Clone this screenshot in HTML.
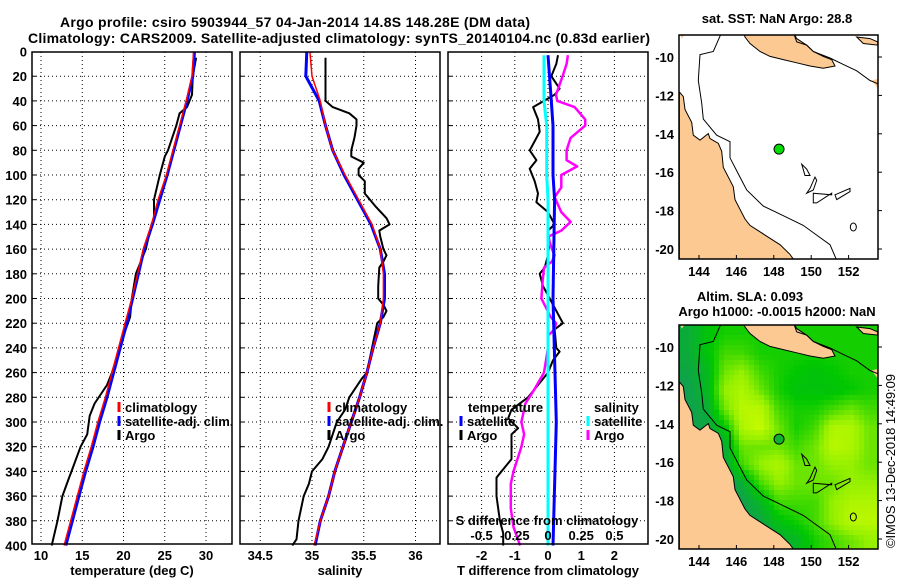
<!DOCTYPE html>
<html><head><meta charset="utf-8">
<style>
body{margin:0;background:#fff;}
svg{display:block;font-family:"Liberation Sans",sans-serif;font-weight:bold;}
</style></head>
<body>
<svg id="fig" width="900" height="580" viewBox="0 0 900 580" xmlns="http://www.w3.org/2000/svg">
<text x="295" y="27" font-size="14" text-anchor="middle" textLength="470">Argo profile: csiro 5903944_57 04-Jan-2014 14.8S 148.28E (DM data)</text>
<text x="339" y="43" font-size="14" text-anchor="middle" textLength="622">Climatology: CARS2009. Satellite-adjusted climatology: synTS_20140104.nc (0.83d earlier)</text>
<g id="plots"></g>
<g id="maps"></g>
<text transform="translate(895,461) rotate(-90)" font-size="13" font-weight="normal" text-anchor="middle" textLength="174">©IMOS 13-Dec-2018 14:49:09</text>
</svg>
<script>
const NS="http://www.w3.org/2000/svg";
// ---------- data ----------
const depthTicks=[0,20,40,60,80,100,120,140,160,180,200,220,240,260,280,300,320,340,360,380,400];
const tempTicks=[10,15,20,25,30];
const salTicks=[34.5,35,35.5,36];
const salTickLabels=["34.5","35","35.5","36"];
const tdiffTicks=[-2,-1,0,1,2];
const sdiffTicks=[-0.5,-0.25,0,0.25,0.5];
const sdiffTickLabels=["-0.5","-0.25","0","0.25","0.5"];

const climDepth=[0,20,40,60,80,100,120,140,160,180,200,220,240,260,280,300,320,340,360,380,400];
const climTemp=[28.5,28.3,27.6,26.8,26.0,25.2,24.2,23.4,22.4,21.7,21.0,20.2,19.4,18.6,17.8,16.9,16.1,15.2,14.4,13.6,12.8];
const satTemp=[28.6,28.4,27.7,26.9,26.1,25.3,24.4,23.5,22.5,21.8,21.1,20.4,19.6,18.8,18.0,17.1,16.3,15.4,14.6,13.8,13.0];
const climSal=[34.98,35.0,35.08,35.13,35.2,35.32,35.45,35.58,35.66,35.69,35.69,35.66,35.59,35.53,35.46,35.38,35.30,35.22,35.16,35.08,35.02];
const satSal=[34.95,34.94,35.07,35.13,35.2,35.31,35.44,35.57,35.66,35.70,35.70,35.66,35.59,35.53,35.46,35.38,35.30,35.22,35.16,35.08,35.03];

const argoTDepth=[5,20,35,45,50,60,80,85,100,120,135,140,160,180,200,215,230,260,270,285,295,310,320,340,345,360,380,400];
const argoTemp=[28.8,28.4,28.3,27.7,26.8,26.4,25.4,25.0,24.4,23.7,23.7,23.4,22.7,21.5,21.0,20.8,20.0,18.6,18.0,16.5,15.9,15.6,14.8,13.7,13.4,12.6,12.0,11.3];
const argoSDepth=[5,40,45,50,55,60,70,80,85,90,95,100,105,115,125,135,140,145,150,160,165,170,175,190,200,205,210,215,220,240,260,265,280,290,300,320,330,340,350,360,380,395,400];
const argoSal=[35.13,35.13,35.2,35.36,35.43,35.43,35.41,35.38,35.38,35.5,35.45,35.45,35.51,35.51,35.61,35.72,35.75,35.65,35.66,35.69,35.72,35.69,35.65,35.64,35.64,35.69,35.72,35.69,35.63,35.58,35.53,35.48,35.36,35.32,35.24,35.16,35.1,35.0,34.97,34.92,34.87,34.85,34.81];

const tdDepth=[3,10,20,30,35,45,55,65,75,80,88,95,105,115,122,130,140,145,155,165,175,180,190,200,220,225,240,243,250,260,270,280,290,297,305,310,330,340,345,360,370,380,390,400];
const argoTDiff=[0.3,0.25,0.1,0.35,0.2,-0.45,-0.3,-0.25,-0.45,-0.55,-0.35,-0.55,-0.4,-0.3,-0.35,0.0,0.2,0.0,0.05,0.0,-0.1,-0.25,-0.15,0.05,0.45,0.2,0.25,0.35,0.15,0.0,-0.3,-0.6,-1.1,-1.2,-0.9,-1.1,-1.1,-1.4,-1.55,-1.55,-1.5,-1.45,-1.35,-1.35];
const sdDepth=[3,10,20,35,40,45,55,60,70,80,88,93,100,110,118,130,138,145,150,160,165,170,175,185,200,215,220,225,230,240,260,275,285,300,310,320,340,350,370,385,400];
const argoSDiff=[0.15,0.14,0.11,0.06,0.07,0.2,0.28,0.28,0.17,0.14,0.14,0.22,0.1,0.1,0.05,0.1,0.17,0.1,0.0,0.03,0.05,0.03,-0.03,-0.04,-0.05,0.02,0.06,0.05,0.0,0.0,-0.03,-0.11,-0.17,-0.2,-0.18,-0.2,-0.26,-0.28,-0.28,-0.26,-0.21];
const satDDepth=[3,40,60,100,120,200,300,400];
const satTDiff=[0.0,0.1,0.15,0.15,0.2,0.15,0.25,0.15];
const satSDiff=[-0.03,-0.03,-0.01,-0.01,0.0,0.0,0.0,0.0];

// map data
const argoLon=148.28, argoLat=-14.8;
const slaGrid=[
[0.1,0.3,0.4,0.4,0.4,0.4,0.4,0.4,0.4,0.4,0.4],
[0.1,0.3,0.5,0.5,0.4,0.4,0.4,0.4,0.4,0.4,0.4],
[0.05,0.2,0.6,0.7,0.5,0.4,0.35,0.3,0.35,0.4,0.4],
[0.0,0.2,0.7,0.8,0.6,0.4,0.3,0.3,0.3,0.35,0.4],
[0.0,0.1,0.6,0.85,0.85,0.5,0.4,0.4,0.5,0.6,0.5],
[0.0,0.05,0.3,0.8,0.9,0.6,0.4,0.5,0.8,0.8,0.6],
[0,0,0.1,0.6,0.6,0.6,0.5,0.6,0.85,0.8,0.6],
[0,0,0.05,0.5,0.7,0.8,0.6,0.6,0.7,0.7,0.6],
[0,0,0,0.1,0.5,0.7,0.6,0.6,0.6,0.7,0.7],
[0,0,0,0,0.2,0.5,0.5,0.5,0.7,0.8,0.8],
[0,0,0,0,0.05,0.3,0.4,0.5,0.7,0.85,0.85],
[0,0,0,0,0,0.1,0.2,0.4,0.5,0.6,0.7]];

// ---------- helpers ----------
function el(tag,attrs,parent){const e=document.createElementNS(NS,tag);for(const k in attrs)e.setAttribute(k,attrs[k]);parent.appendChild(e);return e;}
const yD=d=>51.5+d*1.235;
const Y0=52,Y1=544;
const plots=document.getElementById('plots');

const panels=[
 {x0:32,x1:232,sx:v=>41+(v-10)*8.25,ticks:tempTicks,labels:tempTicks.map(String),xlabel:"temperature (deg C)",name:"temperature-panel"},
 {x0:240,x1:440,sx:v=>312+(v-35)*103.5,ticks:salTicks,labels:salTickLabels,xlabel:"salinity",name:"salinity-panel"},
 {x0:448,x1:648,sx:v=>548+v*33.2,ticks:tdiffTicks,labels:tdiffTicks.map(String),xlabel:"T difference from climatology",name:"difference-panel"}
];
const sxS=v=>548+v*132.8;

panels.forEach((p,pi)=>{
 const g=el('g',{},plots);
 
 
 depthTicks.forEach(d=>{
  if(d===0||d===400)return;
  const l=el('line',{x1:p.x0,x2:p.x1,y1:yD(d),y2:yD(d),stroke:'#000','stroke-width':1,'stroke-dasharray':'1,3'},g);
  
  
  const t=el('line',{x1:p.x0,x2:p.x0+4,y1:yD(d),y2:yD(d),stroke:'#000'},g);
  
  
 });
 p.ticks.forEach((v,i)=>{
  const x=p.sx(v);
  const l=el('line',{x1:x,x2:x,y1:Y0,y2:Y1,stroke:'#000','stroke-width':1,'stroke-dasharray':'1,3'},g);
  
  
  const t=el('text',{x:x,y:560,'font-size':13,'text-anchor':'middle'},g);
  t.textContent=p.labels[i];
  
  
 });
 const xl=el('text',{x:(p.x0+p.x1)/2,y:575,'font-size':13,'text-anchor':'middle'},g);
 xl.textContent=p.xlabel;
 
 
 if(pi===0){
  depthTicks.forEach(d=>{
   const t=el('text',{x:27,y:yD(d)+5,'font-size':13,'text-anchor':'end'},g);
   t.textContent=String(d);
   
   
  });
 }
 p.g=g;
});

function series(g,xf,depths,vals,color,w,name){
 const pts=depths.map((d,i)=>xf(vals[i]).toFixed(1)+','+yD(d).toFixed(1)).join(' ');
 const pl=el('polyline',{points:pts,fill:'none',stroke:color,'stroke-width':w,'stroke-linejoin':'round'},g);
 
 
}
const P=panels;
series(P[0].g,P[0].sx,argoTDepth,argoTemp,'#000',2,'argo-temperature-line');
series(P[0].g,P[0].sx,climDepth,satTemp,'#0000ff',3,'satellite-temperature-line');
series(P[0].g,P[0].sx,climDepth,climTemp,'#ff0000',1.5,'climatology-temperature-line');
series(P[1].g,P[1].sx,argoSDepth,argoSal,'#000',2,'argo-salinity-line');
series(P[1].g,P[1].sx,climDepth,satSal,'#0000ff',3,'satellite-salinity-line');
series(P[1].g,P[1].sx,climDepth,climSal,'#ff0000',1.5,'climatology-salinity-line');
series(P[2].g,P[2].sx,tdDepth,argoTDiff,'#000',2,'argo-t-diff-line');
series(P[2].g,sxS,sdDepth,argoSDiff,'#ff00ff',2.5,'argo-s-diff-line');
series(P[2].g,P[2].sx,satDDepth,satTDiff,'#0000ff',3,'satellite-t-diff-line');
series(P[2].g,sxS,satDDepth,satSDiff,'#00ffff',3,'satellite-s-diff-line');

sdiffTicks.forEach((v,i)=>{
 const t=el('text',{x:sxS(v),y:540,'font-size':13,'text-anchor':'middle'},P[2].g);
 t.textContent=sdiffTickLabels[i];
 
 
});
{const t=el('text',{x:547,y:525,'font-size':13,'text-anchor':'middle'},P[2].g);
 t.textContent='S difference from climatology';
 
 }

panels.forEach(p=>{
 const r=el('rect',{x:p.x0,y:Y0,width:p.x1-p.x0,height:Y1-Y0,fill:'none',stroke:'#000','stroke-width':1.5},p.g);
 
 
});

function legend(g,x,y,color,label){
 const m=el('line',{x1:x,x2:x,y1:y-10,y2:y,stroke:color,'stroke-width':3},g);
 
 
 const t=el('text',{x:x+6,y:y,'font-size':13},g);
 t.textContent=label;
 
 
}
legend(P[0].g,119,412,'#ff0000','climatology');
legend(P[0].g,119,426,'#0000ff','satellite-adj. clim.');
legend(P[0].g,119,440,'#000','Argo');
legend(P[1].g,329,412,'#ff0000','climatology');
legend(P[1].g,329,426,'#0000ff','satellite-adj. clim.');
legend(P[1].g,329,440,'#000','Argo');
{const t=el('text',{x:468,y:412,'font-size':13},P[2].g);t.textContent='temperature';
 
 }
{const t=el('text',{x:594,y:412,'font-size':13},P[2].g);t.textContent='salinity';
 
 }
legend(P[2].g,461,426,'#0000ff','satellite');
legend(P[2].g,461,440,'#000','Argo');
legend(P[2].g,588,426,'#00ffff','satellite');
legend(P[2].g,588,440,'#ff00ff','Argo');

// ---------- maps ----------
const maps=document.getElementById('maps');
const lonX=lo=>699+(lo-144)*18.7;
const latY=la=>57+(-10-la)*19.2;
const MX0=679,MX1=878,MY0=35,MY1=259;
const mapLonTicks=[144,146,148,150,152];
const mapLatTicks=[-10,-12,-14,-16,-18,-20];
const zx=v=>650+v/3, zy=v=>v*0.322;
const ausPts=[[88,285],[100,300],[105,340],[125,380],[130,420],[150,435],[175,415],[180,430],[205,445],[215,470],[220,520],[240,560],[250,580],[255,620],[270,650],[285,680],[300,700],[330,720],[360,740],[390,760],[420,790],[440,820],[88,820]];
const pngPts=[[280,100],[430,100],[440,120],[470,140],[490,160],[520,175],[545,185],[555,205],[520,212],[480,205],[440,195],[400,185],[360,175],[330,160],[300,135],[285,115]];
const contour1=[[215,100],[190,160],[150,170],[145,250],[155,320],[160,370],[200,420],[240,440],[240,490],[265,540],[290,590],[340,640],[400,670],[460,700],[500,730],[540,760],[565,820]];
const contour2=[[430,100],[440,130],[470,140],[490,160],[540,180],[580,200],[620,220],[660,250],[683,260]];
const islands=[[[455,510],[465,545],[480,545],[470,525]],[[495,550],[480,585],[470,600],[490,590],[500,560]],[[490,600],[545,605],[545,600],[500,630],[490,630]],[[555,605],[600,585],[600,595],[560,620]]];

function slaAt(fx,fy){ // fractional grid coords, bilinear
 const R=slaGrid.length, C=slaGrid[0].length;
 let gx=Math.min(Math.max(fx*C-0.5,0),C-1), gy=Math.min(Math.max(fy*R-0.5,0),R-1);
 const x0=Math.floor(gx), y0=Math.floor(gy), x1=Math.min(x0+1,C-1), y1=Math.min(y0+1,R-1);
 const tx=gx-x0, ty=gy-y0;
 const a=slaGrid[y0][x0]*(1-tx)+slaGrid[y0][x1]*tx, b=slaGrid[y1][x0]*(1-tx)+slaGrid[y1][x1]*tx;
 return a*(1-ty)+b*ty;
}
function slaColor(v){
 const lerp=(a,b,t)=>a.map((x,i)=>Math.round(x+(b[i]-x)*t));
 let col;
 if(v<0.35)col=lerp([16,160,80],[0,200,0],v/0.35);
 else if(v<0.7)col=lerp([0,200,0],[150,240,0],(v-0.35)/0.35);
 else col=lerp([150,240,0],[220,255,0],(v-0.7)/0.3);
 return 'rgb('+col.join(',')+')';
}

function drawMap(oy,name,heat){
 const g=el('g',{transform:'translate(0,'+oy+')'},maps);
 
 
 const cp=el('clipPath',{id:'clip'+oy},g);
 el('rect',{x:MX0,y:MY0,width:MX1-MX0,height:MY1-MY0},cp);
 const inner=el('g',{'clip-path':'url(#clip'+oy+')'},g);
 if(heat){
  const cs=5, W=MX1-MX0, H=MY1-MY0;
  for(let y=0;y<H;y+=cs){for(let x=0;x<W;x+=cs){
   const rc=el('rect',{x:MX0+x,y:MY0+y,width:cs+0.3,height:cs+0.3,fill:slaColor(slaAt((x+cs/2)/W,(y+cs/2)/H))},inner);
   
   
  }}
 }
 const pp=a=>a.map(p=>zx(p[0]).toFixed(1)+','+zy(p[1]).toFixed(1)).join(' ');
 const land1=el('polygon',{points:pp(ausPts),fill:'#fcc992',stroke:'#000','stroke-width':1},inner);
 
 
 const land2=el('polygon',{points:pp(pngPts),fill:'#fcc992',stroke:'#000','stroke-width':1},inner);
 
 
 const land3=el('polygon',{points:pp([[88,100],[110,100],[95,120]]),fill:'#fcc992'},inner);
 
 
 const land4=el('polygon',{points:pp([[620,115],[660,120],[683,130],[683,140],[640,135]]),fill:'#fcc992',stroke:'#000','stroke-width':1},inner);
 
 
 const land5=el('polygon',{points:pp([[665,250],[683,245],[683,275]]),fill:'#fcc992'},inner);
 
 
 [contour1,contour2].forEach(c=>{
  const l=el('polyline',{points:pp(c),fill:'none',stroke:'#000','stroke-width':1},inner);
  
  
 });
 islands.forEach(isl=>{
  const l=el('polygon',{points:pp(isl),fill:'none',stroke:'#000','stroke-width':1},inner);
  
  
 });
 const rf=el('ellipse',{cx:zx(610),cy:zy(705),rx:3,ry:4,fill:'none',stroke:'#000'},inner);
 
 
 const dot=el('circle',{cx:lonX(argoLon),cy:latY(argoLat),r:5,fill:heat?'#10b030':'#00dd00',stroke:'#000','stroke-width':1},inner);
 
 
 const fr=el('rect',{x:MX0,y:MY0,width:MX1-MX0,height:MY1-MY0,fill:'none',stroke:'#000','stroke-width':1.5},g);
 
 
 mapLonTicks.forEach(lo=>{
  const t=el('text',{x:lonX(lo),y:MY1+17,'font-size':13,'text-anchor':'middle'},g);
  t.textContent=String(lo);
  
  
  const tk=el('line',{x1:lonX(lo),x2:lonX(lo),y1:MY1,y2:MY1-4,stroke:'#000'},g);
  
  
 });
 mapLatTicks.forEach(la=>{
  const t=el('text',{x:674,y:latY(la)+5,'font-size':13,'text-anchor':'end'},g);
  t.textContent=String(la);
  
  
  const tk=el('line',{x1:MX1,x2:MX1+4,y1:latY(la),y2:latY(la),stroke:'#000'},g);
  
  
 });
}
drawMap(0,'sst-map',false);
drawMap(290,'sla-map',true);
function mtext(x,y,s,name){const t=el('text',{x:x,y:y,'font-size':13,'text-anchor':'middle'},maps);t.textContent=s;
 
 }
mtext(777,23,'sat. SST: NaN Argo: 28.8','sst-map-title');
mtext(750,301,'Altim. SLA: 0.093','sla-map-title');
mtext(777,316,'Argo h1000: -0.0015 h2000: NaN','sla-map-subtitle');
</script>
</body></html>
